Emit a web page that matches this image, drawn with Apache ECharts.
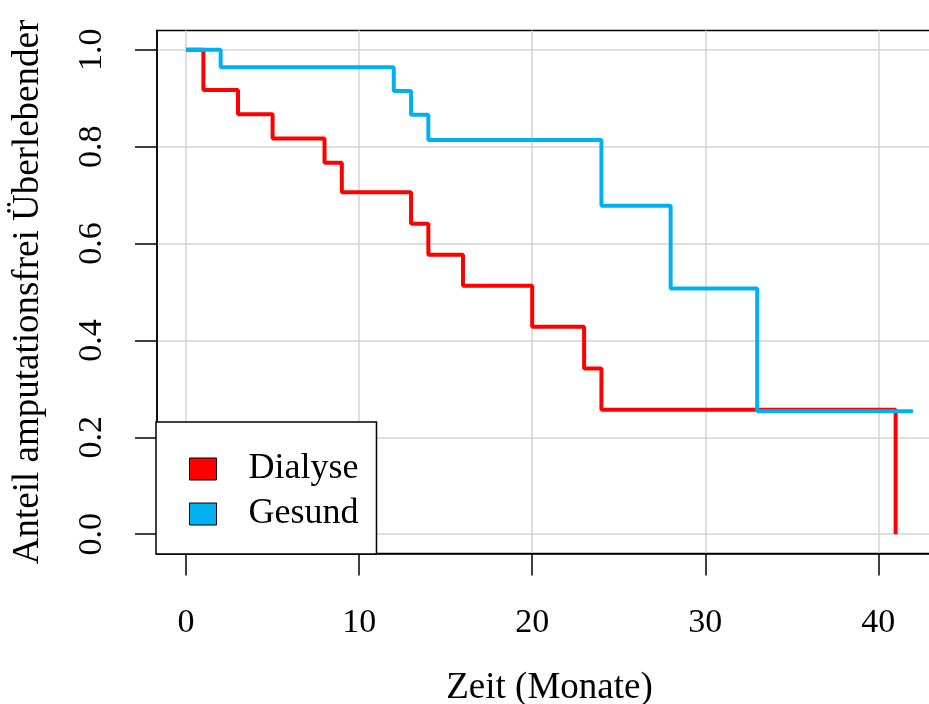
<!DOCTYPE html>
<html>
<head>
<meta charset="utf-8">
<script src="https://cdn.jsdelivr.net/npm/echarts@6/dist/echarts.min.js"></script>
<style>
  html, body { margin: 0; padding: 0; background: #fff; }
  #chart { width: 929px; height: 704px; }
</style>
</head>
<body>
<div id="chart"></div>
<script>
// Kaplan-Meier steps
const dialyseTime = [0, 1, 3, 5, 8, 9, 13, 14, 16, 20, 23, 24, 41]
const dialyseSurv = [1, 0.917, 0.867, 0.817, 0.767, 0.706, 0.641, 0.577, 0.513, 0.428, 0.342, 0.257, 0]
const gesundTime = [0, 2, 12, 13, 14, 24, 28, 33, 42]
const gesundSurv = [1, 0.964, 0.915, 0.866, 0.814, 0.678, 0.507, 0.254, 0.254]
const xTicks = [0, 10, 20, 30, 40]
const yTicks = [0, 0.2, 0.4, 0.6, 0.8, 1.0]

const font = 'Liberation Serif'

const pairs = (xs, ys) => xs.map((x, i) => [x, ys[i]])

let chart = echarts.init(document.getElementById('chart'))
let option = {
  animation: false,
  backgroundColor: '#fff',
  grid: {
    left: 157,
    top: 30.5,
    right: -13,
    bottom: 150.5,
    outerBoundsMode: 'none',
    show: true,
    backgroundColor: 'transparent',
    borderColor: '#000',
    borderWidth: 1.5
  },
  legend: {
    orient: 'vertical',
    left: 156,
    top: 422,
    padding: [29, 18, 22, 33],
    backgroundColor: '#fff',
    borderColor: '#000',
    borderWidth: 1.5,
    icon: 'rect',
    itemWidth: 27,
    itemHeight: 22,
    itemGap: 9,
    itemStyle: { borderColor: '#000', borderWidth: 1 },
    textStyle: {
      fontFamily: font,
      fontSize: 36,
      color: '#000',
      padding: [0, 0, 0, 27]
    },
    data: ['Dialyse', 'Gesund']
  },
  xAxis: {
    type: 'value',
    min: -1.68,
    max: 43.68,
    name: 'Zeit (Monate)',
    nameLocation: 'middle',
    nameGap: 116,
    nameTextStyle: { fontFamily: font, fontSize: 37, color: '#000' },
    axisLine: { show: true, onZero: false, lineStyle: { color: '#000', width: 1.5 } },
    axisTick: { show: true, length: 22, customValues: xTicks, lineStyle: { color: '#000', width: 1.5 } },
    axisLabel: {
      customValues: xTicks,
      margin: 53,
      fontFamily: font,
      fontSize: 34,
      color: '#000'
    },
    splitLine: { show: true, customValues: xTicks, lineStyle: { color: '#d3d3d3', width: 1.5 } }
  },
  yAxis: {
    type: 'value',
    min: -0.04,
    max: 1.04,
    name: 'Anteil amputationsfrei Überlebender',
    nameLocation: 'middle',
    nameGap: 110,
    nameTextStyle: { fontFamily: font, fontSize: 37, color: '#000' },
    axisLine: { show: true, onZero: false, lineStyle: { color: '#000', width: 1.5 } },
    axisTick: { show: true, length: 22, customValues: yTicks, lineStyle: { color: '#000', width: 1.5 } },
    axisLabel: {
      customValues: yTicks,
      rotate: 90,
      margin: 48,
      fontFamily: font,
      fontSize: 34,
      color: '#000',
      formatter: v => v.toFixed(1)
    },
    splitLine: { show: true, customValues: yTicks, lineStyle: { color: '#d3d3d3', width: 1.5 } }
  },
  series: [
    {
      name: 'Dialyse',
      type: 'line',
      step: 'end',
      symbol: 'none',
      color: '#ff0000',
      lineStyle: { color: '#ff0000', width: 4 },
      data: pairs(dialyseTime, dialyseSurv)
    },
    {
      name: 'Gesund',
      type: 'line',
      step: 'end',
      symbol: 'none',
      color: '#00b0f0',
      lineStyle: { color: '#00b0f0', width: 4 },
      data: pairs(gesundTime, gesundSurv)
    }
  ]
}
chart.setOption(option, true)
</script>
</body>
</html>
